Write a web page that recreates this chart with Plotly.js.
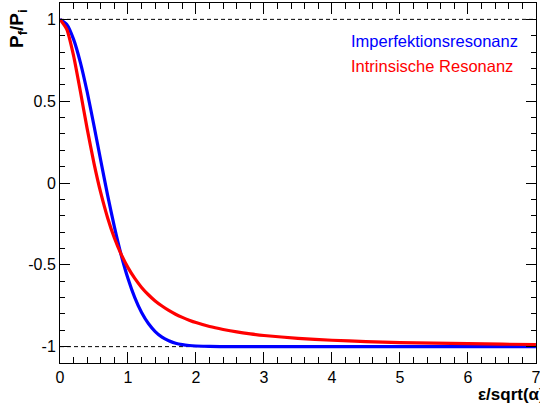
<!DOCTYPE html>
<html>
<head>
<meta charset="utf-8">
<script src="https://cdn.plot.ly/plotly-3.0.1.min.js"></script>
<style>html,body{margin:0;padding:0;background:#fff;}#chart{width:540px;height:405px;}</style>
</head>
<body>
<div id="chart"></div>
<script>
// x values: epsilon / sqrt(alpha)
const xImperfektion = [0, 0.1, 0.2, 0.3, 0.4, 0.5, 0.6, 0.7, 0.8, 0.9, 1.0, 1.1, 1.2, 1.3, 1.4, 1.5, 1.6, 1.7, 1.8, 1.9, 2.0, 2.2, 2.5, 3.0, 4.0, 5.0, 6.0, 7.0];
const yImperfektion = [1, 0.969, 0.878, 0.736, 0.556, 0.350, 0.136, -0.074, -0.268, -0.440, -0.584, -0.701, -0.792, -0.859, -0.908, -0.942, -0.964, -0.979, -0.988, -0.993, -0.996, -0.999, -1, -1, -1, -1, -1, -1];
const xIntrinsisch = [0, 0.1, 0.2, 0.3, 0.4, 0.5, 0.6, 0.7, 0.8, 0.9, 1.0, 1.1, 1.2, 1.3, 1.4, 1.5, 1.6, 1.7, 1.8, 1.9, 2.0, 2.2, 2.4, 2.6, 2.8, 3.0, 3.5, 4.0, 4.5, 5.0, 5.5, 6.0, 6.5, 7.0];
const yIntrinsisch = [1, 0.939, 0.777, 0.559, 0.331, 0.120, -0.061, -0.212, -0.336, -0.436, -0.517, -0.583, -0.638, -0.683, -0.721, -0.752, -0.779, -0.802, -0.821, -0.838, -0.853, -0.877, -0.895, -0.910, -0.922, -0.932, -0.949, -0.961, -0.969, -0.975, -0.979, -0.982, -0.985, -0.987];
const seriesNames = ["Imperfektionsresonanz", "Intrinsische Resonanz"];
const yTickVals = [-1, -0.5, 0, 0.5, 1];
const yTickText = ["-1", "-0.5", "0", "0.5", "1"];
const xTickVals = [0, 1, 2, 3, 4, 5, 6, 7];
const xTickText = ["0", "1", "2", "3", "4", "5", "6", "7"];
const refLines = [1, -1];

const FONT = "Liberation Sans, Arial, sans-serif";

const traces = [
  {x: xImperfektion, y: yImperfektion, mode: "lines", line: {color: "#0000ff", width: 3.2, shape: "spline", smoothing: 0.6}, name: seriesNames[0], hoverinfo: "skip"},
  {x: xIntrinsisch, y: yIntrinsisch, mode: "lines", line: {color: "#ff0000", width: 3.2, shape: "spline", smoothing: 0.6}, name: seriesNames[1], hoverinfo: "skip"}
];

const shapes = refLines.map(v => ({
  type: "line", xref: "x", yref: "y", x0: 0, x1: 7, y0: v, y1: v,
  line: {color: "#000", width: 1, dash: "4px,3px"}, layer: "below"
}));

const layout = {
  width: 540, height: 405,
  margin: {l: 60, r: 4, t: 3, b: 42},
  paper_bgcolor: "#fff", plot_bgcolor: "#fff",
  showlegend: false,
  font: {family: FONT, size: 16, color: "#000"},
  xaxis: {
    range: [0, 7.001], showgrid: false, zeroline: false,
    showline: true, linecolor: "#000", linewidth: 1, mirror: "allticks",
    ticks: "inside", ticklen: 11, tickwidth: 1, tickcolor: "#000",
    tickvals: xTickVals, ticktext: xTickText, ticklabeloverflow: "allow",
    tickfont: {family: FONT, size: 16, color: "#000"},
    minor: {dtick: 0.2, ticks: "inside", ticklen: 6, tickwidth: 1, tickcolor: "#000", showgrid: false}
  },
  yaxis: {
    range: [-1.1, 1.1], showgrid: false, zeroline: false,
    showline: true, linecolor: "#000", linewidth: 1, mirror: "allticks",
    ticks: "inside", ticklen: 10, tickwidth: 1, tickcolor: "#000",
    tickvals: yTickVals, ticktext: yTickText, ticklabeloverflow: "allow",
    tickfont: {family: FONT, size: 16, color: "#000"},
    minor: {dtick: 0.1, ticks: "inside", ticklen: 5, tickwidth: 1, tickcolor: "#000", showgrid: false}
  },
  shapes: shapes,
  annotations: [
    {xref: "paper", yref: "paper", x: 0.608, y: 0.894, xanchor: "left", yanchor: "middle", showarrow: false,
     text: seriesNames[0], font: {family: FONT, size: 16.5, color: "#0000ff"}},
    {xref: "paper", yref: "paper", x: 0.608, y: 0.825, xanchor: "left", yanchor: "middle", showarrow: false,
     text: seriesNames[1], font: {family: FONT, size: 16.5, color: "#ff0000"}},
    {xref: "paper", yref: "paper", x: 1.024, y: -0.088, xanchor: "right", yanchor: "middle", showarrow: false,
     text: "<b>ε/sqrt(α)</b>", font: {family: FONT, size: 17, color: "#000"}},
    {xref: "paper", yref: "paper", x: -0.088, y: 0.928, xanchor: "center", yanchor: "middle", showarrow: false, textangle: -90,
     text: "<b>P<sub>f</sub>/P<sub>i</sub></b>", font: {family: FONT, size: 19, color: "#000"}}
  ]
};

Plotly.newPlot("chart", traces, layout, {displayModeBar: false, staticPlot: true});
</script>
</body>
</html>
